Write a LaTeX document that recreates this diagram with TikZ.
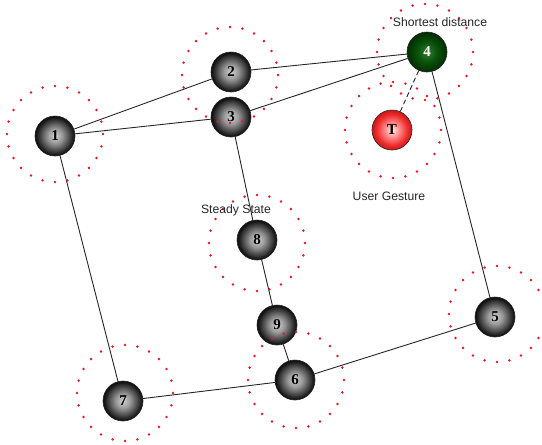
\documentclass[tikz,border=0pt]{standalone}
\usepackage{fontspec}
\setmainfont{Liberation Serif}
\newfontfamily\labelfont{Liberation Sans}

% sphere-like radial fills for the nodes
\pgfdeclareradialshading{graysphere}{\pgfpoint{0bp}{0bp}}{%
  color(0bp)=(black!18); color(9bp)=(black!40); color(18bp)=(black!72);
  color(23bp)=(black!90); color(25bp)=(black!95); color(50bp)=(black!95)}
\definecolor{gA}{rgb}{0.22,0.48,0.22}
\definecolor{gB}{rgb}{0.04,0.33,0.04}
\definecolor{gC}{rgb}{0.0,0.18,0.0}
\pgfdeclareradialshading{greensphere}{\pgfpoint{0bp}{0bp}}{%
  color(0bp)=(gA); color(12bp)=(gB); color(25bp)=(gC); color(50bp)=(gC)}
\definecolor{rA}{rgb}{1,0.93,0.93}
\definecolor{rB}{rgb}{1,0.55,0.55}
\definecolor{rC}{rgb}{0.93,0.18,0.18}
\definecolor{rD}{rgb}{0.82,0.08,0.08}
\pgfdeclareradialshading{redsphere}{\pgfpoint{0bp}{0bp}}{%
  color(0bp)=(rA); color(9bp)=(rB); color(19bp)=(rC); color(25bp)=(rD); color(50bp)=(rD)}
\definecolor{dotred}{rgb}{0.9,0.1,0.15}

\begin{document}
\begin{tikzpicture}[x=1pt,y=-1pt,
  ball/.style={circle, minimum size=40pt, inner sep=0pt, draw=black!85,
    line width=0.6pt, shade, shading=graysphere,
    font=\bfseries\fontsize{15}{15}\selectfont},
  goalball/.style={ball, shading=greensphere, text=white},
  touchball/.style={ball, shading=redsphere},
  edge/.style={draw=black!85, line width=0.9pt},
  gesture/.style={edge, dash pattern=on 5pt off 3pt},
  caption/.style={font=\labelfont\fontsize{12.2}{12.2}\selectfont, text=black!85, inner sep=0pt}]
  \useasboundingbox (0,0) rectangle (542,445);

  % nodes
  \node[ball] (n1) at (55,136) {1};
  \node[ball] (n2) at (231,72) {2};
  \node[ball] (n3) at (231,117) {3};
  \node[goalball] (n4) at (427,52) {4};
  \node[touchball] (T) at (392,130) {T};
  \node[ball] (n5) at (495,317) {5};
  \node[ball] (n6) at (295,380) {6};
  \node[ball] (n7) at (123,401) {7};
  \node[ball] (n8) at (257,240) {8};
  \node[ball] (n9) at (277,325) {9};

  % connections
  \draw[edge] (n1) -- (n2);
  \draw[edge] (n1) -- (n3);
  \draw[edge] (n2) -- (n4);
  \draw[edge] (n3) -- (n4);
  \draw[edge] (n3) -- (n8);
  \draw[edge] (n8) -- (n9);
  \draw[edge] (n9) -- (n6);
  \draw[edge] (n6) -- (n5);
  \draw[edge] (n5) -- (n4);
  \draw[edge] (n1) -- (n7);
  \draw[edge] (n7) -- (n6);
  \draw[gesture] (n4) -- (T);

  % dotted neighbourhood rings
  \foreach \cx/\cy in {55/134, 230/75, 425/52, 393/130, 257/243, 296/380, 125/393, 497/314}{
    \foreach \a in {0,15,...,345}
      \fill[dotred] (\cx,\cy) ++(\a:48) circle (1.4pt);
  }

  % captions
  \node[caption] (lshort) at (440,22) {Shortest distance};
  \node[caption] (lgest) at (389,196) {User Gesture};
  \node[caption] (lsteady) at (236,210) {Steady State};
\end{tikzpicture}
\end{document}
